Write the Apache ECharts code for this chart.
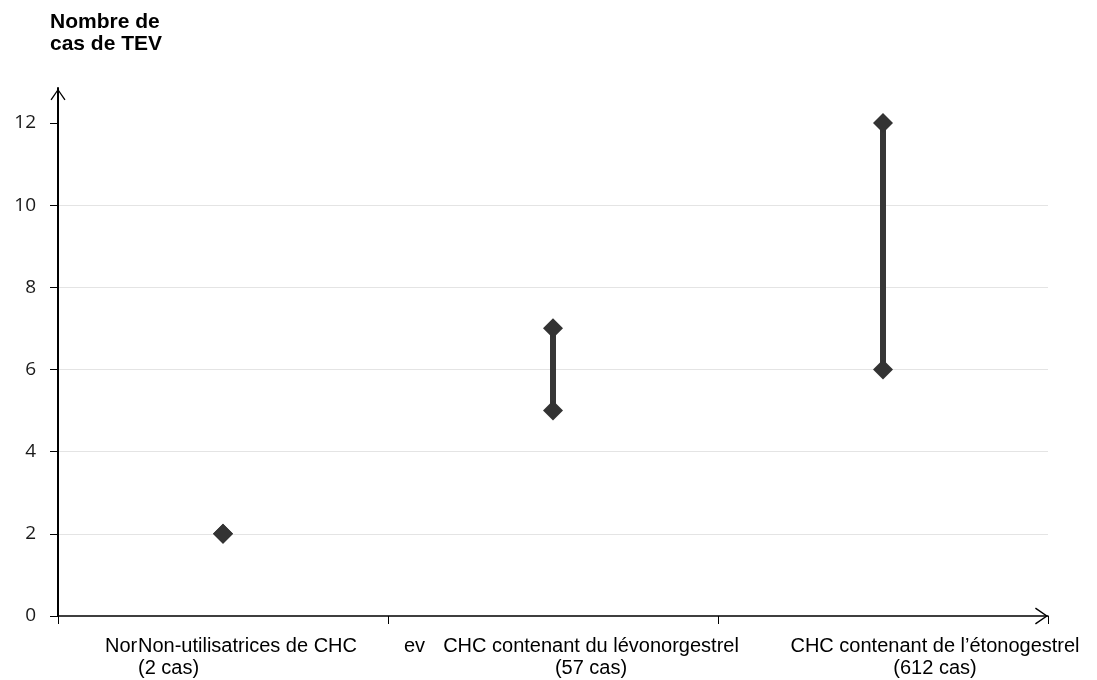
<!DOCTYPE html>
<html>
<head>
<meta charset="utf-8">
<script src="https://cdn.jsdelivr.net/npm/echarts@6/dist/echarts.min.js"></script>
<style>
html,body{margin:0;padding:0;background:#fff;}
#chart{width:1097px;height:680px;}
</style>
</head>
<body>
<div id="chart"></div>
<script>
// ---- data ----
const categories = ['Non-utilisatrices de CHC\n(2 cas)', 'CHC contenant du lévonorgestrel\n(57 cas)', 'CHC contenant de l\u2019étonogestrel\n(612 cas)'];
const lowValues = [2, 5, 6];
const highValues = [2, 7, 12];
const yTicks = [0, 2, 4, 6, 8, 10, 12];
const yTitle = 'Nombre de\ncas de TEV';

const chevron = 'path://M8,0 L16,11.6 L14.8,12.4 L8,2.2 L1.2,12.4 L0,11.6 Z';

const chart = echarts.init(document.getElementById('chart'), null, {renderer: 'canvas'});

const labelFont = '"Liberation Sans", Arial, sans-serif';

const option = {
  animation: false,
  backgroundColor: '#fff',
  grid: {left: 58, right: 49, top: 88, bottom: 64, containLabel: false},
  xAxis: {
    type: 'category',
    data: categories,
    boundaryGap: true,
    axisLine: {show: true, lineStyle: {color: '#000', width: 1.5}, symbol: ['none', chevron], symbolSize: [18, 13], symbolOffset: [0, -6.5]},
    axisTick: {show: true, length: 8, lineStyle: {color: '#000', width: 1}},
    axisLabel: {show: false},
    splitLine: {show: false}
  },
  yAxis: {
    type: 'value',
    min: 0,
    max: 12.85,
    interval: 2,
    axisLine: {show: true, onZero: false, lineStyle: {color: '#000', width: 2}, symbol: ['none', chevron], symbolSize: [15, 13], symbolOffset: [0, -6.5]},
    axisTick: {show: true, length: 8, customValues: yTicks, lineStyle: {color: '#000', width: 1}},
    axisLabel: {show: true, customValues: yTicks, margin: 22, color: '#1a1a1a', fontSize: 19, fontFamily: '"Open Sans", sans-serif'},
    splitLine: {show: true, showMinLine: false, showMaxLine: false, lineStyle: {color: '#e4e4e4', width: 1}}
  },
  series: [
    {
      type: 'custom',
      z: 2,
      data: categories.map((c, i) => [i, lowValues[i], highValues[i]]),
      renderItem: function (params, api) {
        const p1 = api.coord([api.value(0), api.value(1)]);
        const p2 = api.coord([api.value(0), api.value(2)]);
        return {
          type: 'line',
          shape: {x1: p1[0], y1: p1[1], x2: p2[0], y2: p2[1]},
          style: {stroke: '#363636', lineWidth: 6}
        };
      }
    },
    {
      type: 'scatter',
      z: 3,
      symbol: 'diamond',
      symbolSize: 20,
      itemStyle: {color: '#333333', opacity: 1},
      data: categories.map((c, i) => [i, lowValues[i]]).concat(categories.map((c, i) => [i, highValues[i]]))
    }
  ],
  graphic: [
    {type: 'text', x: 50, y: 11, style: {text: yTitle, font: 'bold 21px ' + labelFont, fill: '#000', lineHeight: 22, verticalAlign: 'top'}},
    {type: 'text', x: 105, y: 635, style: {text: 'Nor', font: '20px ' + labelFont, fill: '#000', lineHeight: 22, verticalAlign: 'top'}},
    {type: 'text', x: 138, y: 635, style: {text: categories[0], font: '20px ' + labelFont, fill: '#000', align: 'left', lineHeight: 22, verticalAlign: 'top'}},
    {type: 'text', x: 404, y: 635, style: {text: 'ev', font: '20px ' + labelFont, fill: '#000', lineHeight: 22, verticalAlign: 'top'}},
    {type: 'text', x: 591, y: 635, style: {text: categories[1], font: '20px ' + labelFont, fill: '#000', align: 'center', lineHeight: 22, verticalAlign: 'top'}},
    {type: 'text', x: 935, y: 635, style: {text: categories[2], font: '20px ' + labelFont, fill: '#000', align: 'center', lineHeight: 22, verticalAlign: 'top'}}
  ]
};
chart.setOption(option);
</script>
</body>
</html>
